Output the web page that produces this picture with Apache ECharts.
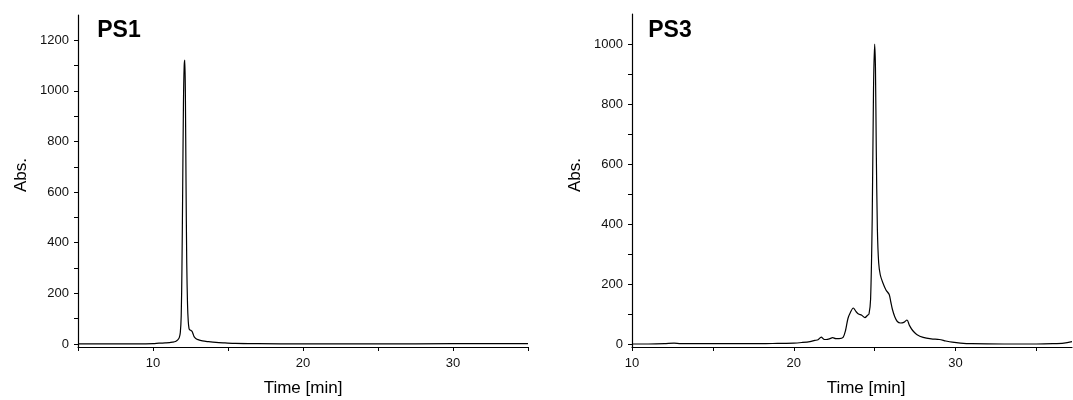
<!DOCTYPE html>
<html><head><meta charset="utf-8">
<script src="https://cdn.jsdelivr.net/npm/echarts@6/dist/echarts.min.js"></script>
<style>html,body{margin:0;padding:0;background:#fff}#c{width:1073px;height:400px}</style>
</head><body><div id="c"></div>
<script>
// PS1 chromatogram (time [min], absorbance)
const ps1Time = [5,6,7,8,9,10,10.4,10.8,11.1,11.3,11.5,11.65,11.75,11.82,11.88,11.93,11.98,12.03,12.08,12.12,12.16,12.2,12.25,12.3,12.35,12.4,12.45,12.52,12.6,12.68,12.75,12.85,13.0,13.3,13.7,14.2,14.8,15.5,17,20,25,30,35];
const ps1Abs  = [0,0,0,0,0,1,3,4,5,7,10,16,25,45,110,300,620,950,1100,1122,980,650,320,160,90,62,56,54,50,38,28,22,17,12,9,6,4,2,1,0,0,1,1];
// PS3 chromatogram
const ps3Time = [10,11,12,12.6,13,14,16,18,19,20,20.5,21,21.3,21.5,21.7,21.85,22.0,22.2,22.4,22.6,22.8,23.05,23.2,23.35,23.5,23.68,23.85,24.0,24.2,24.4,24.55,24.65,24.75,24.85,24.93,25.0,25.05,25.1,25.17,25.25,25.35,25.5,25.7,25.9,26.0,26.1,26.25,26.4,26.6,26.8,27.0,27.15,27.35,27.6,28.0,28.5,29.0,29.4,29.8,30.3,31,33,35,36,36.7,37.2];
const ps3Abs  = [0,0,1,3,1,1,1,1,2,3,5,8,12,14,23,16,15,17,21,18,18,22,45,85,105,120,108,100,96,88,95,100,150,420,850,1000,920,650,380,270,230,205,180,165,140,115,90,75,70,72,80,62,45,32,22,17,15,10,6,3,1,0,0,1,3,8];
const yLabels1 = [0,200,400,600,800,1000,1200];
const yTicks1 = [0,100,200,300,400,500,600,700,800,900,1000,1100,1200];
const yLabels2 = [0,200,400,600,800,1000];
const yTicks2 = [0,100,200,300,400,500,600,700,800,900,1000];
const xLabels1 = [10,20,30];
const xTicks1 = [5,10,15,20,25,30,35];
const xLabels2 = [10,20,30];
const xTicks2 = [10,15,20,25,30,35];

const FONT = '"Liberation Sans", Arial, sans-serif';
const chart = echarts.init(document.getElementById('c'), null, {renderer:'canvas'});
const plain = v => String(v);
function xAx(idx, min, max, labels, ticks){
  return {type:'value', gridIndex:idx, min:min, max:max,
    axisLine:{show:true, onZero:false, lineStyle:{color:'#000', width:1.2}},
    axisTick:{show:true, customValues:ticks, length:4, lineStyle:{color:'#000'}},
    axisLabel:{customValues:labels, formatter:plain, margin:10, color:'#111', fontSize:13, fontFamily:FONT},
    splitLine:{show:false}};
}
function yAx(idx, min, max, labels, ticks){
  return {type:'value', gridIndex:idx, min:min, max:max,
    axisLine:{show:true, lineStyle:{color:'#000', width:1.2}},
    axisTick:{show:true, customValues:ticks, length:4, lineStyle:{color:'#000'}},
    axisLabel:{customValues:labels, formatter:plain, margin:9, color:'#111', fontSize:13, fontFamily:FONT},
    splitLine:{show:false}};
}
const txt = (t, x, y, size, bold, rot) => ({type:'text', x:x, y:y, rotation: rot||0,
  style:{text:t, fill:'#000', font:(bold?'bold ':'')+size+'px '+FONT, textAlign:'center', textVerticalAlign:'middle'}});
chart.setOption({
  animation:false,
  grid:[{left:78, top:15, width:450, bottom:53},
        {left:632, top:14, right:1, bottom:53}],
  xAxis:[xAx(0,5,35,xLabels1,xTicks1), xAx(1,10,37.2,xLabels2,xTicks2)],
  yAxis:[yAx(0,-12,1300,yLabels1,yTicks1), yAx(1,-10,1100,yLabels2,yTicks2)],
  series:[
    {type:'line', xAxisIndex:0, yAxisIndex:0, data:ps1Time.map((t,i)=>[t,ps1Abs[i]]), showSymbol:false, smooth:0.3, lineStyle:{color:'#000', width:1.2}},
    {type:'line', xAxisIndex:1, yAxisIndex:1, data:ps3Time.map((t,i)=>[t,ps3Abs[i]]), showSymbol:false, smooth:0.3, lineStyle:{color:'#000', width:1.2}}
  ],
  graphic:[
    txt('PS1', 119, 31, 23, true),
    txt('PS3', 670, 31, 23, true),
    txt('Abs.', 21, 175, 17, false, Math.PI/2),
    txt('Abs.', 575, 175, 17, false, Math.PI/2),
    txt('Time [min]', 303, 388, 17, false),
    txt('Time [min]', 866, 388, 17, false)
  ]
});
</script></body></html>
